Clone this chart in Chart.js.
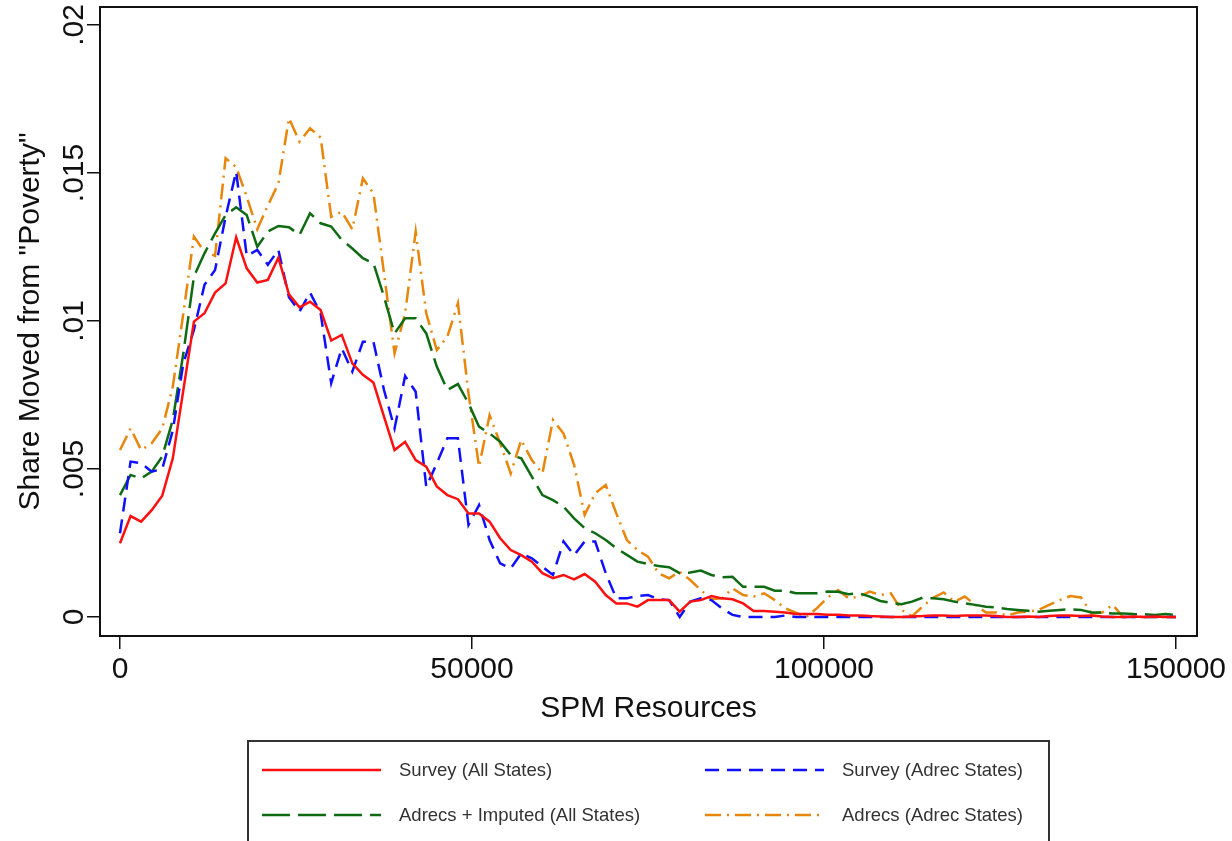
<!DOCTYPE html>
<html>
<head>
<meta charset="utf-8">
<title>Share Moved from "Poverty"</title>
<script src="https://cdn.jsdelivr.net/npm/chart.js@4.4.1/dist/chart.umd.min.js"></script>
<style>
  html, body { margin: 0; padding: 0; background: #ffffff; }
  #wrap { width: 1232px; height: 841px; }
</style>
</head>
<body>
<div id="wrap"><canvas id="chart" width="1232" height="841"></canvas></div>
<script>
// SPM resources bins (x)
var resources = [
  0, 1500, 3000, 4500, 6000, 7500, 9000, 10500, 12000, 13500,
  15000, 16500, 18000, 19500, 21000, 22500, 24000, 25500, 27000, 28500,
  30000, 31500, 33000, 34500, 36000, 37500, 39000, 40500, 42000, 43500,
  45000, 46500, 48000, 49500, 51000, 52500, 54000, 55500, 57000, 58500,
  60000, 61500, 63000, 64500, 66000, 67500, 69000, 70500, 72000, 73500,
  75000, 76500, 78000, 79500, 81000, 82500, 84000, 85500, 87000, 88500,
  90000, 91500, 93000, 94500, 96000, 97500, 99000, 100500, 102000, 103500,
  105000, 106500, 108000, 109500, 111000, 112500, 114000, 115500, 117000, 118500,
  120000, 121500, 123000, 124500, 126000, 127500, 129000, 130500, 132000, 133500,
  135000, 136500, 138000, 139500, 141000, 142500, 144000, 145500, 147000, 148500,
  150000
];

var surveyAll = [
  0.00249, 0.00341, 0.00322, 0.00361, 0.00410, 0.00536, 0.00767, 0.00998, 0.01026, 0.01096,
  0.01127, 0.01283, 0.01178, 0.01130, 0.01139, 0.01214, 0.01090, 0.01046, 0.01065, 0.01037,
  0.00934, 0.00953, 0.00857, 0.00818, 0.00792, 0.00677, 0.00564, 0.00592, 0.00530, 0.00508,
  0.00441, 0.00412, 0.00398, 0.00350, 0.00350, 0.00322, 0.00266, 0.00226, 0.00209, 0.00187,
  0.00148, 0.00131, 0.00142, 0.00127, 0.00145, 0.00119, 0.00074, 0.00046, 0.00046, 0.00035,
  0.00057, 0.00057, 0.00057, 0.00018, 0.00052, 0.00057, 0.00071, 0.00063, 0.00060, 0.00046,
  0.00020, 0.00020, 0.00018, 0.00015, 0.00010, 0.00010, 0.00010, 0.00008, 0.00008, 0.00005,
  0.00005, 0.00003, 0.00002, 0.00000, 0.00000, 0.00002, 0.00003, 0.00005, 0.00005, 0.00003,
  0.00005, 0.00005, 0.00005, 0.00003, 0.00000, 0.00000, 0.00002, 0.00000, 0.00003, 0.00005,
  0.00005, 0.00003, 0.00005, 0.00002, 0.00000, 0.00000, 0.00002, 0.00000, 0.00002, 0.00000,
  0.00000
];

var surveyAdrec = [
  0.00283, 0.00525, 0.00520, 0.00491, 0.00500, 0.00630, 0.00857, 0.00970, 0.01122, 0.01172,
  0.01352, 0.01505, 0.01220, 0.01240, 0.01190, 0.01240, 0.01080, 0.01032, 0.01096, 0.01026,
  0.00790, 0.00908, 0.00829, 0.00930, 0.00930, 0.00767, 0.00637, 0.00814, 0.00761, 0.00440,
  0.00519, 0.00604, 0.00604, 0.00311, 0.00378, 0.00260, 0.00181, 0.00164, 0.00215, 0.00198,
  0.00170, 0.00142, 0.00255, 0.00209, 0.00255, 0.00255, 0.00148, 0.00063, 0.00063, 0.00071,
  0.00074, 0.00060, 0.00057, 0.00000, 0.00052, 0.00063, 0.00057, 0.00029, 0.00007, 0.00000,
  0.00000, 0.00000, 0.00000, 0.00005, 0.00000, 0.00000, 0.00000, 0.00000, 0.00000, 0.00000,
  0.00000, 0.00000, 0.00000, 0.00000, 0.00000, 0.00000, 0.00000, 0.00000, 0.00000, 0.00000,
  0.00000, 0.00000, 0.00000, 0.00000, 0.00000, 0.00000, 0.00000, 0.00000, 0.00000, 0.00000,
  0.00000, 0.00000, 0.00000, 0.00000, 0.00000, 0.00000, 0.00000, 0.00000, 0.00000, 0.00000,
  0.00000
];

var adrecsImputed = [
  0.00412, 0.00480, 0.00468, 0.00491, 0.00542, 0.00666, 0.00891, 0.01150, 0.01229, 0.01296,
  0.01358, 0.01384, 0.01358, 0.01251, 0.01302, 0.01321, 0.01317, 0.01291, 0.01364, 0.01330,
  0.01319, 0.01274, 0.01245, 0.01212, 0.01195, 0.01082, 0.00958, 0.01009, 0.01009, 0.00958,
  0.00846, 0.00767, 0.00787, 0.00722, 0.00643, 0.00620, 0.00592, 0.00547, 0.00536, 0.00474,
  0.00412, 0.00395, 0.00373, 0.00333, 0.00300, 0.00283, 0.00260, 0.00232, 0.00210, 0.00187,
  0.00179, 0.00172, 0.00168, 0.00148, 0.00150, 0.00157, 0.00142, 0.00134, 0.00136, 0.00102,
  0.00102, 0.00102, 0.00089, 0.00089, 0.00080, 0.00080, 0.00080, 0.00086, 0.00085, 0.00077,
  0.00080, 0.00069, 0.00054, 0.00048, 0.00043, 0.00052, 0.00065, 0.00063, 0.00060, 0.00052,
  0.00046, 0.00041, 0.00035, 0.00032, 0.00027, 0.00024, 0.00021, 0.00018, 0.00021, 0.00024,
  0.00026, 0.00024, 0.00015, 0.00015, 0.00012, 0.00012, 0.00010, 0.00009, 0.00007, 0.00010,
  0.00007
];

var adrecsAdrec = [
  0.00564, 0.00637, 0.00564, 0.00587, 0.00637, 0.00778, 0.01026, 0.01285, 0.01234, 0.01220,
  0.01550, 0.01520, 0.01420, 0.01310, 0.01390, 0.01465, 0.01685, 0.01606, 0.01651, 0.01620,
  0.01352, 0.01369, 0.01310, 0.01482, 0.01431, 0.01161, 0.00891, 0.01026, 0.01302, 0.01026,
  0.00902, 0.00947, 0.01060, 0.00756, 0.00508, 0.00682, 0.00587, 0.00485, 0.00598, 0.00530,
  0.00485, 0.00666, 0.00620, 0.00514, 0.00345, 0.00418, 0.00446, 0.00350, 0.00260, 0.00226,
  0.00204, 0.00148, 0.00131, 0.00153, 0.00125, 0.00091, 0.00060, 0.00063, 0.00097, 0.00074,
  0.00069, 0.00080, 0.00057, 0.00029, 0.00015, 0.00000, 0.00030, 0.00065, 0.00091, 0.00063,
  0.00069, 0.00086, 0.00074, 0.00080, 0.00024, 0.00003, 0.00035, 0.00065, 0.00083, 0.00052,
  0.00069, 0.00041, 0.00015, 0.00015, 0.00005, 0.00015, 0.00018, 0.00024, 0.00041, 0.00057,
  0.00071, 0.00066, 0.00012, 0.00015, 0.00041, 0.00000, 0.00000, 0.00000, 0.00000, 0.00000,
  0.00000
];

var seriesLabels = ["Survey (All States)", "Survey (Adrec States)",
                    "Adrecs + Imputed (All States)", "Adrecs (Adrec States)"];

var xTicks = [0, 50000, 100000, 150000];
var yTicks = [0, 0.005, 0.01, 0.015, 0.02];
var yTickLabels = ["0", ".005", ".01", ".015", ".02"];

function pairs(ys) {
    return ys.map(function(y, i){ return { x: resources[i], y: y }; });
}

function lineSet(label, ys, color, dash) {
    return {
        label: label,
        data: pairs(ys),
        borderColor: color,
        backgroundColor: color,
        borderWidth: 2.5,
        borderDash: dash,
        pointRadius: 0,
        tension: 0,
        fill: false
    };
}

// frame round the plot + legend box under the axis
var framePlugin = {
    id: 'frameAndLegend',
    afterDraw: function(chart) {
        var ctx = chart.ctx;
        var a = chart.chartArea;
        ctx.save();
        ctx.strokeStyle = '#111';
        ctx.lineWidth = 2;
        ctx.strokeRect(a.left, a.top, a.right - a.left, a.bottom - a.top);

        // legend
        ctx.strokeStyle = '#333';
        ctx.strokeRect(248, 741, 801, 130);
        var slots = [[262, 770], [705, 770], [262, 815], [705, 815]];
        ctx.font = '18.5px "Liberation Sans", Arial, sans-serif';
        ctx.textBaseline = 'middle';
        ctx.textAlign = 'left';
        chart.data.datasets.forEach(function(ds, i) {
            var s = slots[i];
            ctx.beginPath();
            ctx.setLineDash(ds.borderDash || []);
            ctx.strokeStyle = ds.borderColor;
            ctx.lineWidth = ds.borderWidth;
            ctx.moveTo(s[0], s[1]);
            ctx.lineTo(s[0] + 119, s[1]);
            ctx.stroke();
            ctx.setLineDash([]);
            ctx.fillStyle = '#333';
            ctx.fillText(ds.label, s[0] + 137, s[1] + 1);
        });
        ctx.restore();
    }
};

window.onload = function() {
    var ctx = document.getElementById('chart').getContext('2d');
    var axisFont = { family: '"Liberation Sans", Arial, sans-serif', size: 30 };

    new Chart(ctx, {
        type: 'line',
        data: {
            datasets: [
                lineSet(seriesLabels[0], surveyAll,     '#ff1010', []),
                lineSet(seriesLabels[1], surveyAdrec,   '#1010ff', [14, 8]),
                lineSet(seriesLabels[2], adrecsImputed, '#0e6b12', [28, 8]),
                lineSet(seriesLabels[3], adrecsAdrec,   '#e8860c', [16, 6, 2, 6])
            ]
        },
        options: {
            responsive: false,
            animation: false,
            devicePixelRatio: 1,
            layout: { padding: { top: 7, right: 35, left: 0, bottom: 105 } },
            plugins: {
                legend: { display: false },
                tooltip: { enabled: false }
            },
            scales: {
                x: {
                    type: 'linear',
                    min: -2841,
                    max: 152983,
                    afterBuildTicks: function(scale) {
                        scale.ticks = xTicks.map(function(v){ return { value: v }; });
                    },
                    afterFit: function(scale) {
                        scale.height = 100;
                        scale.paddingLeft = 0;
                        scale.paddingRight = 0;
                    },
                    border: { display: false },
                    grid: { display: true, drawOnChartArea: false, drawTicks: true,
                            tickLength: 13, color: '#111', lineWidth: 1.5 },
                    ticks: {
                        font: axisFont, color: '#111', padding: 3,
                        maxRotation: 0, minRotation: 0, autoSkip: false,
                        callback: function(v) { return String(v); }
                    },
                    title: {
                        display: true, text: 'SPM Resources', font: axisFont,
                        color: '#111', padding: { top: 0, bottom: 9 }
                    }
                },
                y: {
                    type: 'linear',
                    min: -0.000642,
                    max: 0.020608,
                    afterBuildTicks: function(scale) {
                        scale.ticks = yTicks.map(function(v){ return { value: v }; });
                    },
                    afterFit: function(scale) {
                        scale.width = 100;
                        scale.paddingTop = 0;
                        scale.paddingBottom = 0;
                    },
                    border: { display: false },
                    grid: { display: true, drawOnChartArea: false, drawTicks: true,
                            tickLength: 13, color: '#111', lineWidth: 1.5 },
                    ticks: {
                        font: axisFont, color: '#111', padding: -17,
                        minRotation: 90, maxRotation: 90, crossAlign: 'center',
                        autoSkip: false,
                        callback: function(v, i) { return yTickLabels[i]; }
                    },
                    title: {
                        display: true, text: 'Share Moved from "Poverty"', font: axisFont,
                        color: '#111', padding: { top: 13, bottom: 0 }
                    }
                }
            }
        },
        plugins: [framePlugin]
    });
};
</script>
</body>
</html>
